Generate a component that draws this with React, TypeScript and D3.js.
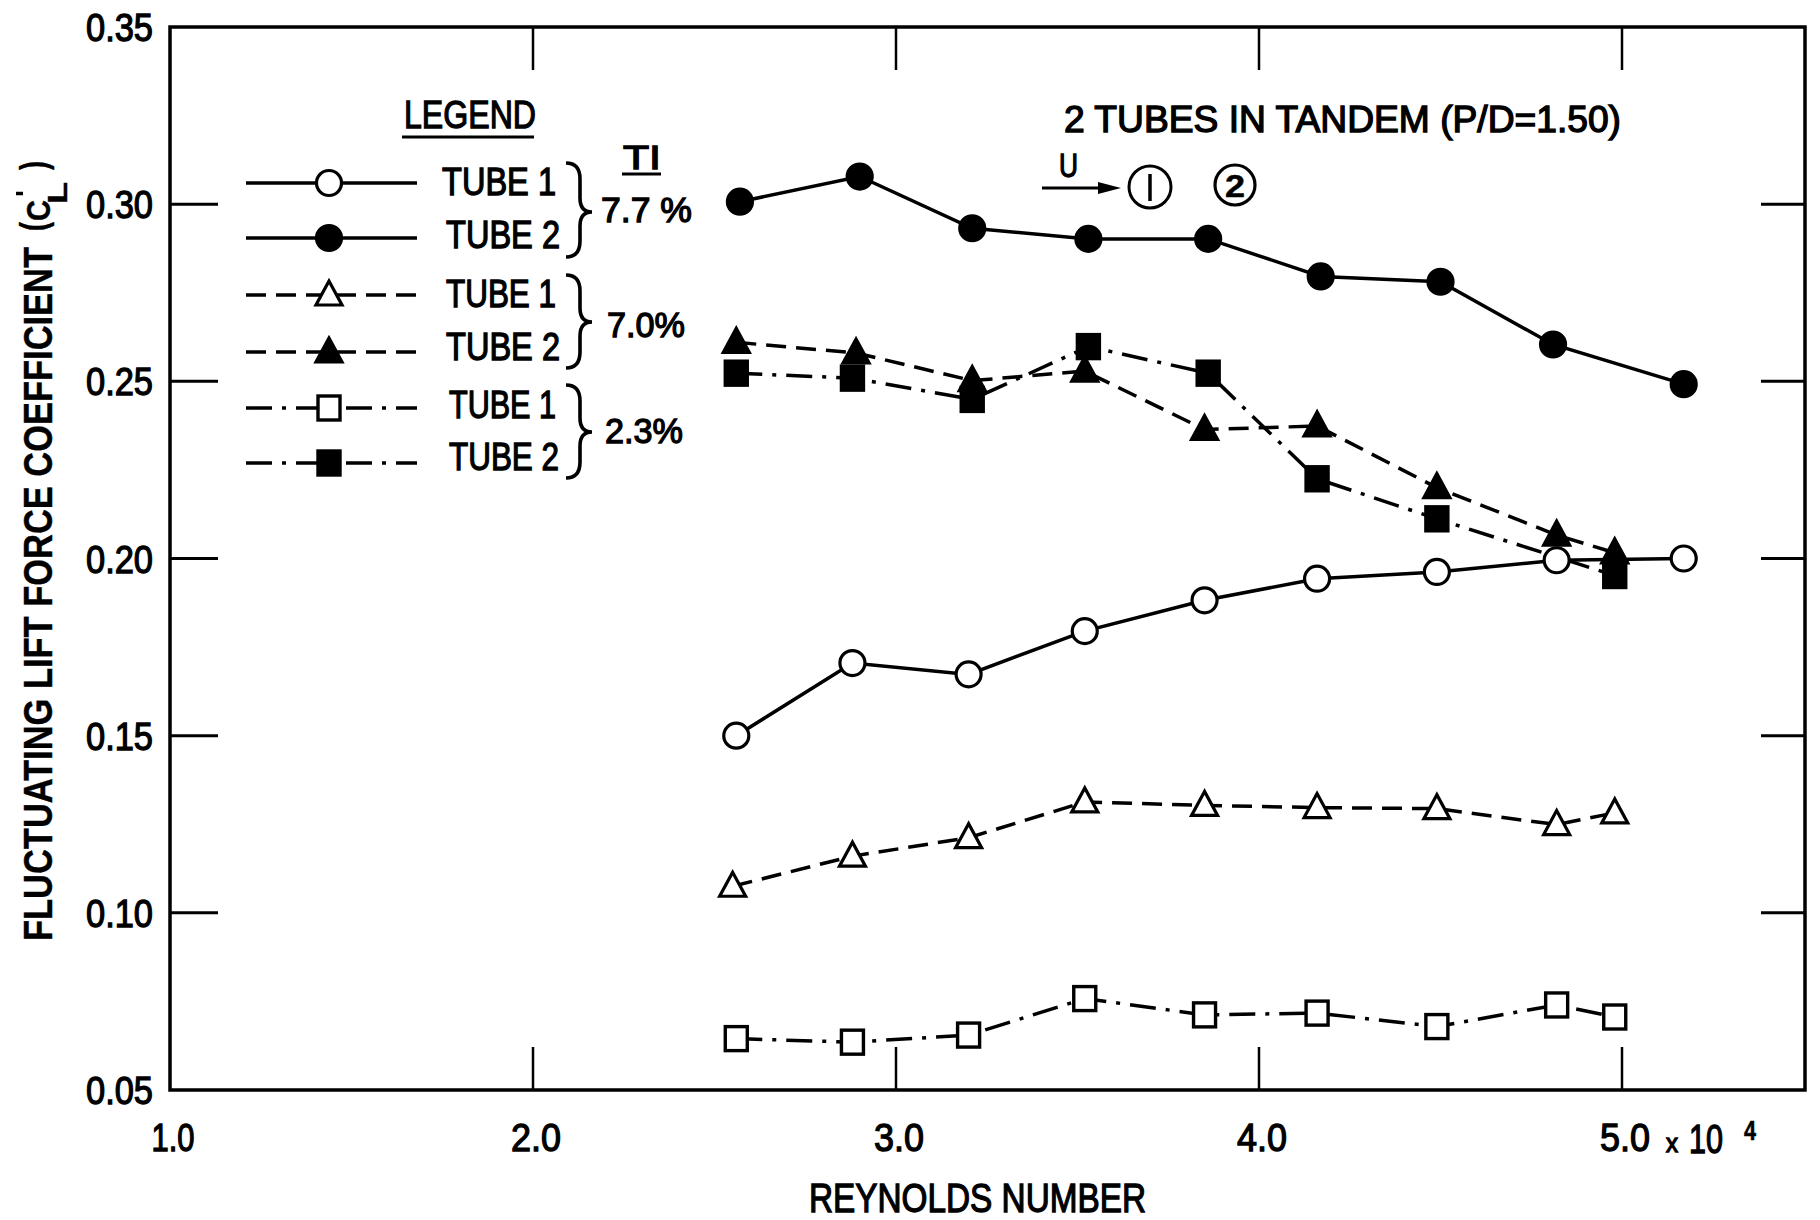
import React from "react";
import * as d3 from "d3";

// ---------- data ----------
const xTicks = [1.0, 2.0, 3.0, 4.0, 5.0];
const xTickLabels = ["1.0", "2.0", "3.0", "4.0", "5.0"];
const yTicks = [0.05, 0.1, 0.15, 0.2, 0.25, 0.3, 0.35];
const yTickLabels = ["0.05", "0.10", "0.15", "0.20", "0.25", "0.30", "0.35"];

// TI = 7.7 %
const re77t1 = [2.56, 2.88, 3.2, 3.52, 3.85, 4.16, 4.49, 4.82, 5.17];
const tube1_77 = [0.15, 0.1705, 0.1673, 0.1795, 0.1882, 0.1943, 0.1962, 0.1995, 0.2];
const re77t2 = [2.57, 2.9, 3.21, 3.53, 3.86, 4.17, 4.5, 4.81, 5.17];
const tube2_77 = [0.3007, 0.3078, 0.2932, 0.2902, 0.2902, 0.2796, 0.2781, 0.2604, 0.2492];
// TI = 7.0 %
const re70t1 = [2.55, 2.88, 3.2, 3.52, 3.85, 4.16, 4.49, 4.82, 4.98];
const tube1_70 = [0.1075, 0.116, 0.1212, 0.1313, 0.1303, 0.1297, 0.1294, 0.1249, 0.1282];
const re70t2 = [2.56, 2.89, 3.21, 3.52, 3.85, 4.16, 4.49, 4.82, 4.98];
const tube2_70 = [0.261, 0.258, 0.2502, 0.2529, 0.2364, 0.2374, 0.22, 0.2066, 0.2016];
// TI = 2.3 %
const re23t1 = [2.56, 2.88, 3.2, 3.52, 3.85, 4.16, 4.49, 4.82, 4.98];
const tube1_23 = [0.0645, 0.0635, 0.0655, 0.0758, 0.0712, 0.0717, 0.0679, 0.074, 0.0706];
const re23t2 = [2.56, 2.88, 3.21, 3.53, 3.86, 4.16, 4.49, 4.98];
const tube2_23 = [0.2523, 0.2509, 0.2449, 0.2598, 0.2523, 0.2225, 0.2112, 0.1952];

const FONT = "'Liberation Sans', Arial, Helvetica, sans-serif";
const DASH = "20,10";
const DASHDOT = "26,10,4,10";

type Shape = "circle" | "triangle" | "square";
interface Series {
  re: number[];
  val: number[];
  shape: Shape;
  filled: boolean;
  dash?: string;
}
const series: Series[] = [
  { re: re23t1, val: tube1_23, shape: "square", filled: false, dash: DASHDOT },
  { re: re70t1, val: tube1_70, shape: "triangle", filled: false, dash: DASH },
  { re: re77t1, val: tube1_77, shape: "circle", filled: false },
  { re: re77t2, val: tube2_77, shape: "circle", filled: true },
  { re: re23t2, val: tube2_23, shape: "square", filled: true, dash: DASHDOT },
  { re: re70t2, val: tube2_70, shape: "triangle", filled: true, dash: DASH },
];

// ---------- layout ----------
const X0 = 170;
const XR = 1805;
const YT = 27;
const YB = 1090;
const x = d3.scaleLinear().domain([1.0, 5.0]).range([X0, 1622]);
const y = d3.scaleLinear().domain([0.05, 0.35]).range([YB, YT]);

function Marker({ cx, cy, shape, filled }: { cx: number; cy: number; shape: Shape; filled: boolean }) {
  const fill = filled ? "#000" : "#fff";
  if (shape === "circle") return <circle cx={cx} cy={cy} r={12.5} fill={fill} stroke="#000" strokeWidth={3.2} />;
  if (shape === "square")
    return <rect x={cx - 11} y={cy - 12} width={22} height={24} fill={fill} stroke="#000" strokeWidth={3.4} />;
  const p = `M${cx},${cy - 14} L${cx - 13},${cy + 10} L${cx + 13},${cy + 10} Z`;
  return <path d={p} fill={fill} stroke="#000" strokeWidth={3.2} strokeLinejoin="miter" />;
}

function Txt({ x: tx, y: ty, w, size, children, weight = 400, sw = 1.3 }: any) {
  return (
    <text
      x={tx}
      y={ty}
      fontSize={size}
      fontFamily={FONT}
      fontWeight={weight}
      textLength={w}
      lengthAdjust="spacingAndGlyphs"
      fill="#000"
      stroke="#000"
      strokeWidth={sw}
    >
      {children}
    </text>
  );
}

function Brace({ yt, yb, ym }: { yt: number; yb: number; ym: number }) {
  const x0 = 566;
  const xm = 580;
  const xp = 592;
  const d = `M${x0},${yt} Q${xm},${yt} ${xm},${yt + 16} L${xm},${ym - 14} Q${xm},${ym} ${xp},${ym} Q${xm},${ym} ${xm},${ym + 14} L${xm},${yb - 16} Q${xm},${yb} ${x0},${yb}`;
  return <path d={d} fill="none" stroke="#000" strokeWidth={3.6} />;
}

export default function App() {
  const line = d3
    .line<[number, number]>()
    .x((d) => x(d[0]))
    .y((d) => y(d[1]));

  const legendRows = [
    { y: 183, shape: "circle" as Shape, filled: false, dash: undefined, label: "TUBE 1", lx: 442, lw: 114, by: 195 },
    { y: 238, shape: "circle" as Shape, filled: true, dash: undefined, label: "TUBE 2", lx: 446, lw: 114, by: 248 },
    { y: 295, shape: "triangle" as Shape, filled: false, dash: DASH, label: "TUBE 1", lx: 446, lw: 110, by: 307 },
    { y: 352, shape: "triangle" as Shape, filled: true, dash: DASH, label: "TUBE 2", lx: 446, lw: 114, by: 360 },
    { y: 408, shape: "square" as Shape, filled: false, dash: DASHDOT, label: "TUBE 1", lx: 449, lw: 107, by: 418 },
    { y: 463, shape: "square" as Shape, filled: true, dash: DASHDOT, label: "TUBE 2", lx: 449, lw: 110, by: 470 },
  ];

  return (
    <svg
      width={1820}
      height={1220}
      style={{ position: "absolute", left: 0, top: 0, background: "#fff" }}
      xmlns="http://www.w3.org/2000/svg"
    >
      <rect x={0} y={0} width={1820} height={1220} fill="#fff" />

      {/* frame */}
      <path d={`M${X0},${YT} L${XR},${YT} L${XR},${YB} L${X0},${YB} Z`} fill="none" stroke="#000" strokeWidth={3.5} />

      {/* y ticks (inside, both sides) */}
      {yTicks.slice(1, -1).map((t) => (
        <g key={"yt" + t}>
          <line x1={X0} x2={X0 + 48} y1={y(t)} y2={y(t)} stroke="#000" strokeWidth={3} />
          <line x1={XR - 44} x2={XR} y1={y(t)} y2={y(t)} stroke="#000" strokeWidth={3} />
        </g>
      ))}
      {/* x ticks (inside, top and bottom) */}
      {xTicks.slice(1).map((t) => (
        <g key={"xt" + t}>
          <line x1={x(t)} x2={x(t)} y1={YB} y2={YB - 43} stroke="#000" strokeWidth={2.5} />
          <line x1={x(t)} x2={x(t)} y1={YT} y2={YT + 43} stroke="#000" strokeWidth={2.5} />
        </g>
      ))}

      {/* y tick labels */}
      {yTicks.map((t, i) => (
        <Txt key={"yl" + t} x={86} y={y(t) + 14} w={67} size={39}>
          {yTickLabels[i]}
        </Txt>
      ))}
      {/* x tick labels */}
      {xTicks.map((t, i) => {
        const w = i === 0 ? 43 : 50;
        return (
          <Txt key={"xl" + t} x={x(t) - w / 2 + 3} y={1151} w={w} size={39}>
            {xTickLabels[i]}
          </Txt>
        );
      })}
      <Txt x={1666} y={1152} w={12} size={26}>x</Txt>
      <Txt x={1689} y={1153} w={34} size={40}>10</Txt>
      <Txt x={1744} y={1140} w={12} size={28} weight={700} sw={0.6}>4</Txt>

      {/* axis titles */}
      <Txt x={809} y={1212} w={337} size={40}>REYNOLDS NUMBER</Txt>
      <g transform="rotate(-90)">
        <Txt x={-941} y={52} w={694} size={41} weight={700} sw={0.4}>FLUCTUATING LIFT FORCE COEFFICIENT</Txt>
        <Txt x={-231} y={46} w={9} size={36} weight={700} sw={0.4}>(</Txt>
        <Txt x={-221} y={50} w={21} size={33} weight={700} sw={0.4}>C</Txt>
        <Txt x={-204} y={67} w={22} size={28} weight={700} sw={0.4}>L</Txt>
        <Txt x={-170} y={46} w={9} size={36} weight={700} sw={0.4}>)</Txt>
      </g>
      <line x1={16} x2={23} y1={193.5} y2={193.5} stroke="#000" strokeWidth={3.5} />

      {/* data lines */}
      {series.map((s, i) => (
        <path
          key={"l" + i}
          d={line(s.re.map((r, j) => [r, s.val[j]] as [number, number])) || ""}
          fill="none"
          stroke="#000"
          strokeWidth={3.5}
          strokeDasharray={s.dash}
        />
      ))}
      {/* markers */}
      {series.map((s, i) => (
        <g key={"m" + i}>
          {s.re.map((r, j) => (
            <Marker key={j} cx={x(r)} cy={y(s.val[j])} shape={s.shape} filled={s.filled} />
          ))}
        </g>
      ))}

      {/* legend */}
      <Txt x={404} y={128} w={132} size={39}>LEGEND</Txt>
      <line x1={402} x2={534} y1={137} y2={137} stroke="#000" strokeWidth={3} />
      <Txt x={623} y={169} w={38} size={33}>TI</Txt>
      <line x1={622} x2={661} y1={174} y2={174} stroke="#000" strokeWidth={3} />
      {legendRows.map((r, i) => (
        <g key={"lg" + i}>
          <line x1={246} x2={417} y1={r.y} y2={r.y} stroke="#000" strokeWidth={3.5} strokeDasharray={r.dash} />
          <Marker cx={329} cy={r.y} shape={r.shape} filled={r.filled} />
          <Txt x={r.lx} y={r.by} w={r.lw} size={38}>{r.label}</Txt>
        </g>
      ))}
      <Brace yt={163} yb={257} ym={212} />
      <Brace yt={275} yb={368} ym={322} />
      <Brace yt={385} yb={478} ym={432} />
      <Txt x={601} y={222} w={91} size={35}>7.7 %</Txt>
      <Txt x={607} y={337} w={78} size={35}>7.0%</Txt>
      <Txt x={605} y={443} w={78} size={35}>2.3%</Txt>

      {/* annotation */}
      <Txt x={1064} y={132} w={557} size={36}>2 TUBES IN TANDEM (P/D=1.50)</Txt>
      <Txt x={1059} y={177} w={19} size={34}>U</Txt>
      <line x1={1042} x2={1102} y1={188} y2={188} stroke="#000" strokeWidth={3} />
      <path d="M1098,182 L1121,188 L1098,194 Z" fill="#000" />
      <circle cx={1150} cy={187} r={21} fill="none" stroke="#000" strokeWidth={3} />
      <line x1={1150} x2={1150} y1={174} y2={201} stroke="#000" strokeWidth={3.5} />
      <circle cx={1235} cy={185} r={20} fill="none" stroke="#000" strokeWidth={3.2} />
      <Txt x={1225} y={197} w={20} size={32} weight={700} sw={0.5}>2</Txt>
    </svg>
  );
}
